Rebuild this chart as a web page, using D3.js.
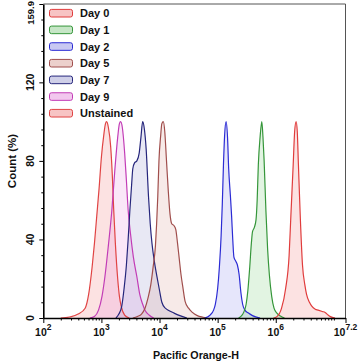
<!DOCTYPE html>
<html>
<head>
<meta charset="utf-8">
<script src="https://cdn.jsdelivr.net/npm/d3@7"></script>
<style>
  body { margin: 0; background: #fff; }
  text { font-family: Arial, "Liberation Sans", sans-serif; font-weight: bold; fill: #111; }
</style>
</head>
<body>
<div class="canvas"></div>
<script>
// histogram points: [log10(Pacific Orange-H), count %]
const unstained = [[2.30,0],[2.45,0.5],[2.60,2],[2.72,5],[2.78,12],[2.84,26],[2.88,38],[2.92,52],[2.96,66],[3.00,82],[3.04,93],[3.07,99],[3.09,100],[3.12,97],[3.16,87],[3.19,71],[3.21,56],[3.24,38],[3.28,20],[3.31,11],[3.34,6],[3.40,1.5],[3.48,0]];
const day9 = [[2.80,0],[2.88,0.8],[2.95,4],[3.01,11],[3.06,21],[3.12,37],[3.18,55],[3.23,75],[3.28,92],[3.31,99],[3.33,100],[3.36,97],[3.40,84],[3.43,70],[3.46,55],[3.50,43],[3.55,31],[3.61,21],[3.66,12],[3.71,7],[3.75,4],[3.82,1.5],[3.90,0]];
const day7 = [[3.25,0],[3.30,2],[3.35,6],[3.39,15],[3.43,27],[3.46,40],[3.49,55],[3.52,68],[3.54,76],[3.57,79],[3.61,80],[3.65,84],[3.68,92],[3.71,100],[3.74,96],[3.77,86],[3.81,62],[3.84,48],[3.87,38],[3.91,29],[3.95,22],[4.00,14],[4.04,8],[4.10,5],[4.15,4],[4.25,2.5],[4.35,1.2],[4.47,0]];
const day5 = [[3.54,0],[3.62,0.8],[3.69,2],[3.75,5],[3.80,10],[3.85,17],[3.89,26],[3.93,37],[3.95,48],[3.97,62],[3.99,80],[4.02,93],[4.04,99],[4.065,100],[4.09,95],[4.12,80],[4.15,65],[4.18,53],[4.21,48],[4.25,47],[4.28,45],[4.31,38],[4.34,30],[4.37,22],[4.40,16],[4.44,8.5],[4.50,5],[4.56,3],[4.65,1.2],[4.75,0.4],[4.82,0]];
const day2 = [[4.78,0],[4.87,1.5],[4.93,4],[4.96,7],[5.00,15],[5.03,26],[5.06,42],[5.08,58],[5.10,78],[5.12,93],[5.145,100],[5.17,92],[5.19,76],[5.22,62],[5.24,52],[5.26,40],[5.28,31],[5.31,29],[5.34,27],[5.37,22],[5.40,13],[5.43,7],[5.47,4],[5.53,2.5],[5.60,1.2],[5.73,0]];
const day1 = [[5.36,0],[5.40,0.8],[5.45,3],[5.49,7],[5.52,14],[5.55,25],[5.58,38],[5.60,44],[5.63,46],[5.66,50],[5.68,60],[5.70,78],[5.73,92],[5.76,100],[5.78,92],[5.80,80],[5.83,55],[5.86,35],[5.89,22],[5.93,11],[5.97,5],[6.02,2.5],[6.08,1],[6.15,0]];
const day0 = [[5.96,0],[6.02,0.7],[6.10,5],[6.17,15],[6.23,32],[6.26,52],[6.30,78],[6.325,95],[6.35,100],[6.37,95],[6.39,78],[6.42,53],[6.46,27],[6.50,17],[6.53,12],[6.58,8],[6.62,6],[6.68,4.5],[6.73,4],[6.80,3.3],[6.85,2.8],[6.90,1.5],[6.94,0.7],[7.02,0]];

const legendNames = ['Day 0', 'Day 1', 'Day 2', 'Day 5', 'Day 7', 'Day 9', 'Unstained'];
const xTickExps = [2, 3, 4, 5, 6, 7.2];
const yTickValues = [0, 40, 80, 120];
const yMax = 159.9;

const seriesByName = {
  'Day 0': day0, 'Day 1': day1, 'Day 2': day2, 'Day 5': day5,
  'Day 7': day7, 'Day 9': day9, 'Unstained': unstained
};
const style = {
  'Day 0':     { stroke: '#e03c3c', fill: '#f07070', op: 0.2,  swatch: '#f7c4c4' },
  'Day 1':     { stroke: '#35963a', fill: '#60c060', op: 0.18, swatch: '#c6e6c6' },
  'Day 2':     { stroke: '#2b2bd4', fill: '#7474e8', op: 0.18, swatch: '#c8c8f2' },
  'Day 5':     { stroke: '#a04e4c', fill: '#d08a80', op: 0.18, swatch: '#ecd0cc' },
  'Day 7':     { stroke: '#26267c', fill: '#7070b8', op: 0.16, swatch: '#cfcfe8' },
  'Day 9':     { stroke: '#c23cb6', fill: '#e27ad8', op: 0.18, swatch: '#f2c8ee' },
  'Unstained': { stroke: '#e04444', fill: '#f07070', op: 0.2,  swatch: '#f7c4c4' }
};

const plotLeft = 43.3, plotRight = 345.5, plotTop = 4, plotBottom = 318;

const svg = d3.select('.canvas').append('svg')
    .attr('width', 360)
    .attr('height', 363);

const x = d3.scaleLog()
    .domain([1e2, Math.pow(10, 7.2)])
    .range([plotLeft, plotRight]);
const y = d3.scaleLinear()
    .domain([0, yMax])
    .range([plotBottom, plotTop]);

svg.append('clipPath').attr('id', 'clip')
  .append('rect')
    .attr('x', plotLeft).attr('y', plotTop)
    .attr('width', plotRight - plotLeft).attr('height', plotBottom - plotTop);

const area = d3.area()
    .x(d => x(Math.pow(10, d[0])))
    .y0(y(0))
    .y1(d => y(d[1]))
    .curve(d3.curveMonotoneX);
const line = d3.line()
    .x(d => x(Math.pow(10, d[0])))
    .y(d => y(d[1]))
    .curve(d3.curveMonotoneX);

const plot = svg.append('g').attr('clip-path', 'url(#clip)');
const drawOrder = ['Unstained', 'Day 9', 'Day 7', 'Day 5', 'Day 2', 'Day 1', 'Day 0'];
drawOrder.forEach(name => {
  plot.append('path')
      .datum(seriesByName[name])
      .attr('d', area)
      .attr('fill', style[name].fill)
      .attr('fill-opacity', style[name].op);
});
drawOrder.forEach(name => {
  plot.append('path')
      .datum(seriesByName[name])
      .attr('d', line)
      .attr('fill', 'none')
      .attr('stroke', style[name].stroke)
      .attr('stroke-width', 1.2);
});

// frame (top + right)
svg.append('path')
    .attr('d', `M${plotLeft},${plotTop}H${plotRight}V${plotBottom}`)
    .attr('fill', 'none')
    .attr('stroke', '#555')
    .attr('stroke-width', 1);

// x axis
const xMajor = xTickExps.map(e => Math.pow(10, e));
const xMinor = [];
for (let e = 2; e <= 7; e++) {
  for (let m = 2; m <= 9; m++) {
    const v = m * Math.pow(10, e);
    if (v < Math.pow(10, 7.2)) xMinor.push(v);
  }
}
xMinor.push(1e7);

const xAxisG = svg.append('g')
    .attr('transform', `translate(0,${plotBottom})`)
    .call(d3.axisBottom(x).tickValues(xMajor).tickFormat('').tickSizeInner(5).tickSizeOuter(0));
svg.append('g')
    .attr('transform', `translate(0,${plotBottom})`)
    .call(d3.axisBottom(x).tickValues(xMinor).tickFormat('').tickSizeInner(2.5).tickSizeOuter(0))
    .select('.domain').remove();
xAxisG.select('.domain').attr('stroke', '#000').attr('stroke-width', 1.6);

xTickExps.forEach(e => {
  const t = svg.append('text')
      .attr('x', x(Math.pow(10, e)))
      .attr('y', 336)
      .attr('text-anchor', 'middle')
      .style('font-size', '10.5px');
  t.append('tspan').text('10');
  t.append('tspan').attr('dy', -6.5).style('font-size', '8.5px').text(String(e));
});

svg.append('text')
    .attr('x', 196)
    .attr('y', 359)
    .attr('text-anchor', 'middle')
    .style('font-size', '10.7px')
    .text('Pacific Orange-H');

// y axis
const yMinor = d3.range(8, yMax, 8).filter(v => v % 40 !== 0);
const yAxisG = svg.append('g')
    .attr('transform', `translate(${plotLeft},0)`)
    .call(d3.axisLeft(y).tickValues(yTickValues.concat([yMax])).tickFormat('').tickSizeInner(4).tickSizeOuter(0));
svg.append('g')
    .attr('transform', `translate(${plotLeft},0)`)
    .call(d3.axisLeft(y).tickValues(yMinor).tickFormat('').tickSizeInner(2).tickSizeOuter(0))
    .select('.domain').remove();
yAxisG.select('.domain').attr('stroke', '#000').attr('stroke-width', 1.6);
svg.selectAll('.tick line').attr('stroke', '#000').attr('stroke-width', 1);

yTickValues.forEach(v => {
  svg.append('text')
      .attr('transform', `translate(33.5,${y(v)}) rotate(-90)`)
      .attr('text-anchor', 'middle')
      .style('font-size', '10.5px')
      .text(String(v));
});
// top label reads upward and ends at the top edge
svg.append('text')
    .attr('transform', `translate(33.5,${y(yMax) - 3}) rotate(-90)`)
    .attr('text-anchor', 'end')
    .style('font-size', '9.5px')
    .text('159.9');

svg.append('text')
    .attr('transform', `translate(16,161) rotate(-90)`)
    .attr('text-anchor', 'middle')
    .style('font-size', '11.5px')
    .text('Count (%)');

// legend
const legend = svg.append('g');
legendNames.forEach((name, i) => {
  const cy = 13.2 + i * 16.67;
  legend.append('rect')
      .attr('x', 49.5)
      .attr('y', cy - 3.8)
      .attr('width', 23)
      .attr('height', 7.6)
      .attr('rx', 2)
      .attr('fill', style[name].swatch)
      .attr('stroke', style[name].stroke)
      .attr('stroke-width', 1);
  legend.append('text')
      .attr('x', 80)
      .attr('y', cy)
      .attr('dy', '0.36em')
      .style('font-size', '11px')
      .text(name);
});
</script>
</body>
</html>
